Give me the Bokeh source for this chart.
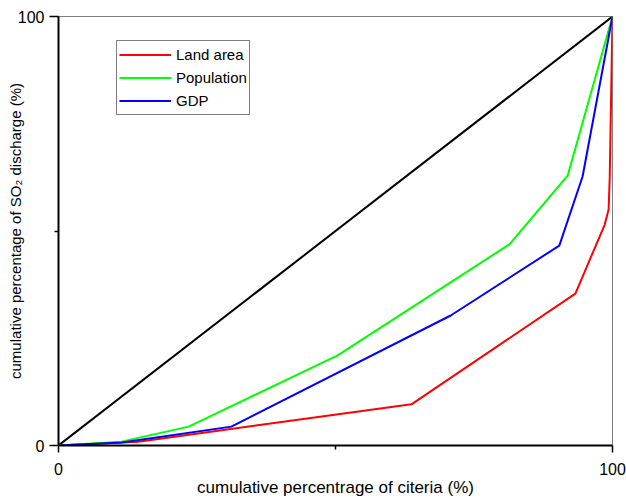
import math
from bokeh.plotting import figure
from bokeh.models import Range1d, FixedTicker, Legend, LegendItem
from bokeh.embed import file_html
from bokeh.resources import INLINE

# Data (cumulative %)
equality_x = [0, 100]
equality_y = [0, 100]

land_x = [0, 14.4, 63.7, 93.3, 98.6, 99.3, 99.5, 100]
land_y = [0, 0.9, 9.6, 35.4, 51.5, 55.0, 62.5, 100]

pop_x = [0, 11.4, 23.5, 50.4, 81.4, 91.9, 100]
pop_y = [0, 0.9, 4.4, 21.0, 46.9, 62.9, 100]

gdp_x = [0, 11.4, 31.2, 70.8, 90.4, 94.6, 100]
gdp_y = [0, 0.7, 4.4, 30.3, 46.6, 62.7, 100]

major_ticks = [0, 100]
minor_ticks = [50]

FONT = "Liberation Sans"

p = figure(width=626, height=503, output_backend="svg", toolbar_location=None,
           x_range=Range1d(0, 100), y_range=Range1d(0, 100),
           min_border_left=58, min_border_right=14, min_border_top=16, min_border_bottom=58)
p.background_fill_color = "white"
p.border_fill_color = "white"
p.outline_line_color = "#808080"
p.outline_line_width = 1
p.xgrid.visible = False
p.ygrid.visible = False

for ax in (p.xaxis[0], p.yaxis[0]):
    ax.ticker = FixedTicker(ticks=major_ticks, minor_ticks=minor_ticks)
    ax.axis_line_color = "black"
    ax.axis_line_width = 2
    ax.major_tick_line_color = "black"
    ax.major_tick_line_width = 1.5
    ax.minor_tick_line_color = "black"
    ax.minor_tick_line_width = 1.5
    ax.major_tick_in = 0
    ax.minor_tick_in = 0
    ax.minor_tick_out = 4
    ax.major_label_text_font = FONT
    ax.major_label_text_font_size = "16px"
    ax.major_label_text_color = "black"
    ax.axis_label_text_font = FONT
    ax.axis_label_text_font_style = "normal"
    ax.axis_label_text_color = "black"

p.xaxis[0].major_tick_out = 7
p.xaxis[0].major_label_standoff = 10
p.xaxis[0].axis_label = "cumulative percentrage of citeria (%)"
p.xaxis[0].axis_label_text_font_size = "17px"
p.xaxis[0].axis_label_standoff = 0

p.yaxis[0].major_tick_out = 9
p.yaxis[0].major_label_standoff = 5
p.yaxis[0].axis_label = "cumulative percentage of SO\u2082 discharge (%)"
p.yaxis[0].axis_label_text_font_size = "15px"
p.yaxis[0].axis_label_standoff = -9

p.line(equality_x, equality_y, line_color="black", line_width=2)
r_land = p.line(land_x, land_y, line_color="#FF0000", line_width=2)
r_pop = p.line(pop_x, pop_y, line_color="#00FF00", line_width=2)
r_gdp = p.line(gdp_x, gdp_y, line_color="#0000FF", line_width=2)

legend = Legend(items=[LegendItem(label="Land area", renderers=[r_land]),
                       LegendItem(label="Population", renderers=[r_pop]),
                       LegendItem(label="GDP", renderers=[r_gdp])],
                location=(58, 330), orientation="vertical")
legend.margin = 0
legend.padding = 2
legend.spacing = 0
legend.glyph_width = 52
legend.glyph_height = 23
legend.label_height = 23
legend.label_standoff = 5
legend.label_text_font = FONT
legend.label_text_font_size = "15px"
legend.label_text_color = "black"
legend.border_line_color = "black"
legend.border_line_width = 1
legend.background_fill_alpha = 1
p.add_layout(legend, "center")

open("out.html", "w").write(file_html(p, INLINE))
